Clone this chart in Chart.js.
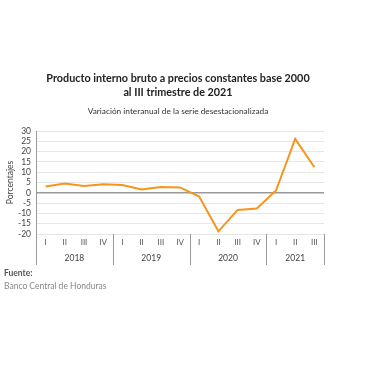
<!DOCTYPE html>
<html>
<head>
<meta charset="utf-8">
<script src="https://cdn.jsdelivr.net/npm/chart.js@4"></script>
<style>
  html, body { margin: 0; padding: 0; background: #fff; }
  #wrap { position: relative; width: 380px; height: 380px; overflow: hidden; }
  #c { position: absolute; left: 0; top: 0; }
  .t { position: absolute; left: 0; width: 356px; text-align: center; font-family: Lato, "Liberation Sans", sans-serif; color: #222; }
  #t1 { top: 71px; font-size: 10.8px; font-weight: bold; line-height: 14px; }
  #t2 { top: 106px; font-size: 8.3px; color: #333; }
  .f { position: absolute; left: 4px; font-family: Lato, "Liberation Sans", sans-serif; font-size: 8.5px; }
  #f1 { top: 268px; font-weight: bold; color: #555; }
  #f2 { top: 281px; color: #888; }
</style>
</head>
<body>
<div id="wrap">
  <canvas id="c" width="380" height="380"></canvas>
  <div class="t" id="t1">Producto interno bruto a precios constantes base 2000<br>al III trimestre de 2021</div>
  <div class="t" id="t2">Variación interanual de la serie desestacionalizada</div>
  <div class="f" id="f1">Fuente:</div>
  <div class="f" id="f2">Banco Central de Honduras</div>
</div>
<script>
const quarters = ['I','II','III','IV','I','II','III','IV','I','II','III','IV','I','II','III'];
const years = ['2018','2019','2020','2021'];
const yearSpans = [4, 4, 4, 3];
const values = [3.1, 4.5, 3.3, 4.1, 3.8, 1.6, 2.8, 2.6, -1.8, -18.7, -8.3, -7.6, 1.1, 26.2, 12.4];
const yTicks = [-20, -15, -10, -5, 0, 5, 10, 15, 20, 25, 30];

const yearPlugin = {
  id: 'yearPlugin',
  afterDraw(chart) {
    const ctx = chart.ctx;
    const x = chart.scales.x;
    const area = chart.chartArea;
    const bottomY = 265;
    const half = (x.getPixelForValue(1) - x.getPixelForValue(0)) / 2;
    ctx.save();
    ctx.strokeStyle = '#999';
    ctx.lineWidth = 1;
    let idx = 0;
    const bounds = [x.getPixelForValue(0) - half];
    yearSpans.forEach(s => {
      idx += s;
      bounds.push(x.getPixelForValue(idx - 1) + half);
    });
    bounds.forEach((b, i) => {
      ctx.beginPath();
      ctx.moveTo(Math.round(b) + 0.5, i === 0 ? area.top : area.bottom);
      ctx.lineTo(Math.round(b) + 0.5, bottomY);
      ctx.stroke();
    });
    ctx.fillStyle = '#444';
    ctx.font = '8.5px Lato, "Liberation Sans", sans-serif';
    ctx.textAlign = 'center';
    ctx.textBaseline = 'middle';
    years.forEach((y, i) => {
      ctx.fillText(y, (bounds[i] + bounds[i + 1]) / 2, 258);
    });
    ctx.restore();
  }
};

new Chart(document.getElementById('c'), {
  type: 'line',
  data: {
    labels: quarters,
    datasets: [{
      data: values,
      borderColor: '#f7941d',
      borderWidth: 2,
      pointRadius: 0,
      tension: 0,
      fill: false
    }]
  },
  options: {
    responsive: false,
    animation: false,
    layout: { padding: { top: 131, left: 0, right: 56, bottom: 115 } },
    plugins: { legend: { display: false }, tooltip: { enabled: false } },
    scales: {
      x: {
        offset: true,
        grid: { display: false, drawTicks: false },
        border: { display: false },
        ticks: { color: '#555', font: { size: 8, family: 'Lato, "Liberation Sans", sans-serif' }, padding: 4, maxRotation: 0, autoSkip: false },
        afterFit(s) { s.height = 31; }
      },
      y: {
        min: -20, max: 30,
        afterBuildTicks(s) { s.ticks = yTicks.map(v => ({ value: v })); },
        grid: {
          drawTicks: false,
          color: ctx => ctx.tick && ctx.tick.value === 0 ? '#999' : '#e6e6e6',
          lineWidth: ctx => ctx.tick && ctx.tick.value === 0 ? 1.5 : 1
        },
        border: { display: true, color: '#999' },
        ticks: { color: '#444', autoSkip: false, font: { size: 8.5, family: 'Lato, "Liberation Sans", sans-serif' }, padding: 5 },
        title: { display: true, text: 'Porcentajes', color: '#444', font: { size: 8.5, family: 'Lato, "Liberation Sans", sans-serif' }, padding: { top: 5, bottom: 0 } },
        afterFit(s) { s.width = 36; }
      }
    }
  },
  plugins: [yearPlugin]
});
</script>
</body>
</html>
